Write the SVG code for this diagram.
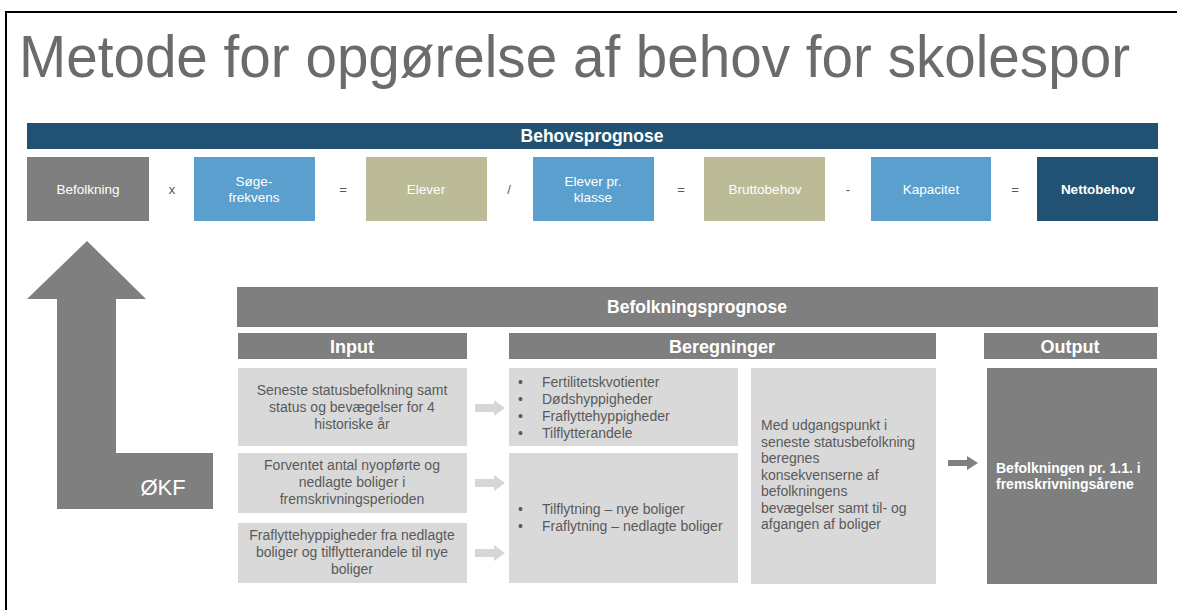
<svg xmlns="http://www.w3.org/2000/svg" width="1177" height="610" viewBox="0 0 1177 610">
<style>
  text { font-family: "Liberation Sans", Arial, sans-serif; }
  .title { font-size: 59px; fill: #6b6b6b; }
  .hdr { font-size: 17.5px; font-weight: bold; fill: #ffffff; text-anchor: middle; }
  .hdr2 { font-size: 18px; font-weight: bold; fill: #ffffff; text-anchor: middle; }
  .bx { font-size: 13.5px; fill: #ffffff; text-anchor: middle; }
  .op { font-size: 13px; fill: #595959; text-anchor: middle; }
  .in { font-size: 14px; fill: #595959; text-anchor: middle; }
  .bl { font-size: 14px; fill: #595959; }
  .gray { fill: #7f7f7f; }
  .blue { fill: #5a9fcd; }
  .olive { fill: #bbbb97; }
  .dark { fill: #215273; }
  .light { fill: #d9d9d9; }
  .sarrow { fill: #d6d6d6; }
</style>
<rect x="0" y="0" width="1177" height="610" fill="#ffffff"/>
<path d="M6 610 V12 H1177" fill="none" stroke="#000000" stroke-width="2"/>

<text class="title" x="19" y="77" textLength="1111" lengthAdjust="spacingAndGlyphs">Metode for opgørelse af behov for skolespor</text>

<g id="behovsprognose">
  <rect class="dark" x="27" y="123" width="1131" height="26"/>
  <text class="hdr" x="592" y="142">Behovsprognose</text>
</g>

<g id="befolkning">
  <rect class="gray" x="27" y="157" width="122" height="64"/>
  <text class="bx" x="88" y="194">Befolkning</text>
</g>
<g id="soegefrekvens">
  <rect class="blue" x="194" y="157" width="121" height="64"/>
  <text class="bx" x="254" y="186">Søge-</text>
  <text class="bx" x="254" y="202">frekvens</text>
</g>
<g id="elever">
  <rect class="olive" x="366" y="157" width="121" height="64"/>
  <text class="bx" x="426" y="194">Elever</text>
</g>
<g id="eleverprklasse">
  <rect class="blue" x="533" y="157" width="121" height="64"/>
  <text class="bx" x="593" y="186">Elever pr.</text>
  <text class="bx" x="593" y="202">klasse</text>
</g>
<g id="bruttobehov">
  <rect class="olive" x="704" y="157" width="121" height="64"/>
  <text class="bx" x="765" y="194">Bruttobehov</text>
</g>
<g id="kapacitet">
  <rect class="blue" x="871" y="157" width="120" height="64"/>
  <text class="bx" x="931" y="194">Kapacitet</text>
</g>
<g id="nettobehov">
  <rect class="dark" x="1037" y="157" width="121" height="64"/>
  <text class="bx" x="1098" y="194" font-weight="bold">Nettobehov</text>
</g>

<g id="operators">
  <text class="op" x="172" y="194">x</text>
  <text class="op" x="343" y="194">=</text>
  <text class="op" x="509" y="194">/</text>
  <text class="op" x="681" y="194">=</text>
  <text class="op" x="848" y="194">-</text>
  <text class="op" x="1015" y="194">=</text>
</g>

<g id="okf">
  <polygon class="gray" points="87,241 146,299 116,299 116,453 213,453 213,509 57,509 57,299 27,299"/>
  <text x="163" y="495" font-size="22" fill="#ffffff" text-anchor="middle">ØKF</text>
</g>

<g id="befolkningsprognose">
  <rect class="gray" x="237" y="287" width="921" height="40"/>
  <text class="hdr" x="697" y="313">Befolkningsprognose</text>
</g>

<g id="input-header">
  <rect class="gray" x="238" y="333" width="229" height="26"/>
  <text class="hdr2" x="352" y="353">Input</text>
</g>
<g id="beregninger-header">
  <rect class="gray" x="509" y="333" width="427" height="26"/>
  <text class="hdr2" x="722" y="353">Beregninger</text>
</g>
<g id="output-header">
  <rect class="gray" x="984" y="333" width="173" height="26"/>
  <text class="hdr2" x="1070" y="353">Output</text>
</g>

<g id="input1">
  <rect class="light" x="238" y="368" width="229" height="78"/>
  <text class="in" x="352" y="395">Seneste statusbefolkning samt</text>
  <text class="in" x="352" y="412">status og bevægelser for 4</text>
  <text class="in" x="352" y="429">historiske år</text>
</g>
<g id="input2">
  <rect class="light" x="238" y="453" width="229" height="60"/>
  <text class="in" x="352" y="470">Forventet antal nyopførte og</text>
  <text class="in" x="352" y="487">nedlagte boliger i</text>
  <text class="in" x="352" y="504">fremskrivningsperioden</text>
</g>
<g id="input3">
  <rect class="light" x="238" y="523" width="229" height="60"/>
  <text class="in" x="352" y="540">Fraflyttehyppigheder fra nedlagte</text>
  <text class="in" x="352" y="557">boliger og tilflytterandele til nye</text>
  <text class="in" x="352" y="574">boliger</text>
</g>

<g id="beregning1">
  <rect class="light" x="509" y="368" width="229" height="78"/>
  <text class="bl" x="518" y="387">•</text><text class="bl" x="542" y="387">Fertilitetskvotienter</text>
  <text class="bl" x="518" y="404">•</text><text class="bl" x="542" y="404">Dødshyppigheder</text>
  <text class="bl" x="518" y="421">•</text><text class="bl" x="542" y="421">Fraflyttehyppigheder</text>
  <text class="bl" x="518" y="438">•</text><text class="bl" x="542" y="438">Tilflytterandele</text>
</g>
<g id="beregning2">
  <rect class="light" x="509" y="453" width="229" height="130"/>
  <text class="bl" x="518" y="514">•</text><text class="bl" x="542" y="514">Tilflytning – nye boliger</text>
  <text class="bl" x="518" y="531">•</text><text class="bl" x="542" y="531">Fraflytning – nedlagte boliger</text>
</g>
<g id="beregning3">
  <rect class="light" x="751" y="368" width="185" height="216"/>
  <text class="bl" x="761" y="430">Med udgangspunkt i</text>
  <text class="bl" x="761" y="446.5">seneste statusbefolkning</text>
  <text class="bl" x="761" y="463">beregnes</text>
  <text class="bl" x="761" y="479.5">konsekvenserne af</text>
  <text class="bl" x="761" y="496">befolkningens</text>
  <text class="bl" x="761" y="512.5">bevægelser samt til- og</text>
  <text class="bl" x="761" y="529">afgangen af boliger</text>
</g>
<g id="output">
  <rect class="gray" x="987" y="368" width="170" height="216"/>
  <text x="996" y="473" font-size="14" font-weight="bold" fill="#ffffff">Befolkningen pr. 1.1. i</text>
  <text x="996" y="489" font-size="14" font-weight="bold" fill="#ffffff">fremskrivningsårene</text>
</g>

<g id="connectors">
  <polygon class="sarrow" points="475,404 494,404 494,400 505,408 494,416 494,412 475,412"/>
  <polygon class="sarrow" points="475,479 494,479 494,475 505,483 494,491 494,487 475,487"/>
  <polygon class="sarrow" points="475,549 494,549 494,545 505,553 494,561 494,557 475,557"/>
  <polygon class="gray" points="948,460 967,460 967,456 978,463 967,470 967,466 948,466"/>
</g>
</svg>
